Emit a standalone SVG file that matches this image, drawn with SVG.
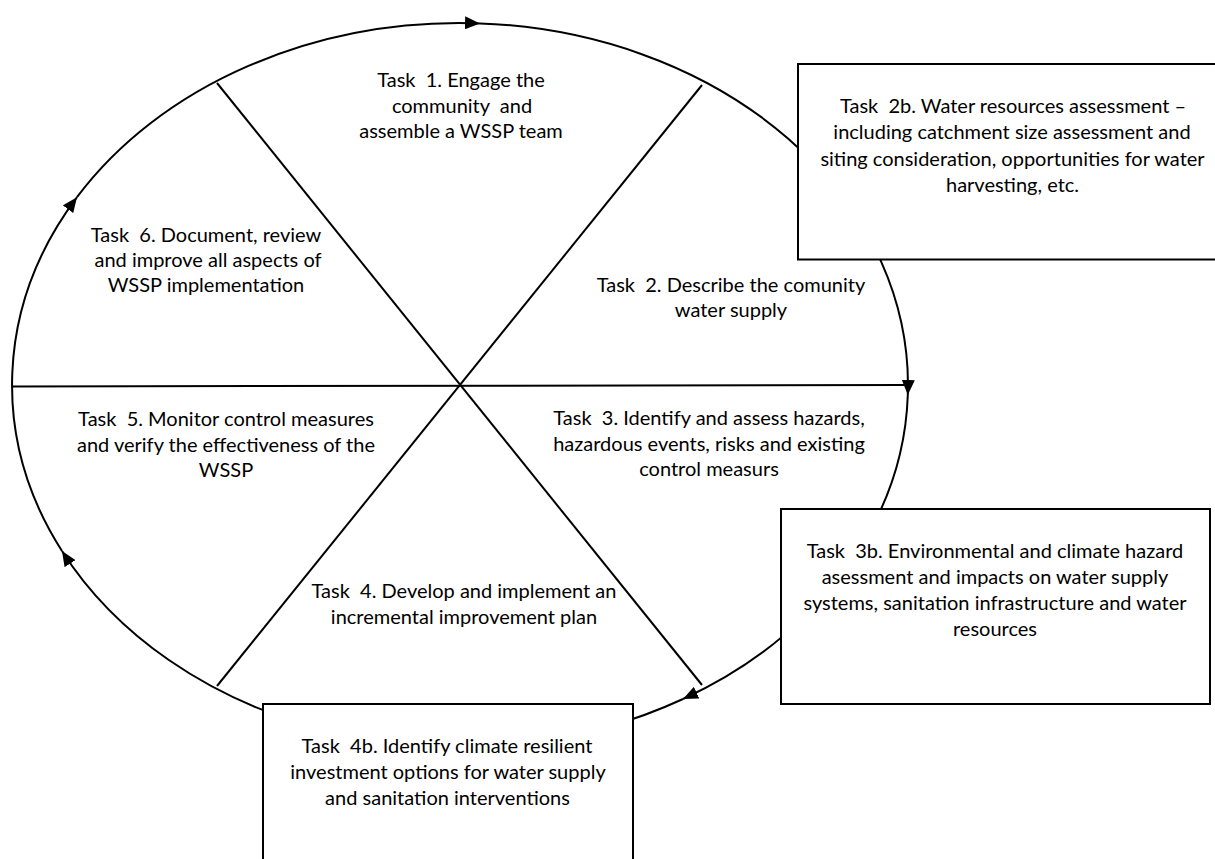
<svg xmlns="http://www.w3.org/2000/svg" width="1215" height="859" viewBox="0 0 1215 859">
<style>
  .bg { fill: #ffffff; }
  .ring { fill: none; stroke: #000; stroke-width: 2; }
  .spoke { fill: none; stroke: #000; stroke-width: 2; }
  .box { fill: #ffffff; stroke: #000; stroke-width: 2; }
  .t { font-family: Lato, "Liberation Sans", sans-serif; font-size: 20px; fill: #000; text-anchor: middle; white-space: pre; }
</style>
<defs>
  <marker id="ah" markerWidth="15" markerHeight="13" refX="15" refY="6.5" orient="auto" markerUnits="userSpaceOnUse">
    <path d="M0,0 L15,6.5 L0,13 z" fill="#000"/>
  </marker>
</defs>
<rect class="bg" x="0" y="0" width="1215" height="859"/>

<g id="connectors">
  <path class="ring" d="M77,197.2 A448,362 0 0 1 480,23.4" marker-end="url(#ah)"/>
  <path class="ring" d="M480,23.4 A448,362 0 0 1 907.8,395" marker-end="url(#ah)"/>
  <path class="ring" d="M907.8,395 A448,362 0 0 1 683,699" marker-end="url(#ah)"/>
  <path class="ring" d="M683,699 A448,362 0 0 1 62,551" marker-end="url(#ah)"/>
  <path class="ring" d="M62,551 A448,362 0 0 1 77,197.2" marker-end="url(#ah)"/>
  <line class="spoke" x1="12" y1="386.5" x2="905" y2="385"/>
  <line class="spoke" x1="217" y1="83" x2="702" y2="685"/>
  <line class="spoke" x1="702" y1="85" x2="217" y2="686"/>
</g>

<g id="task1">
  <text class="t" x="461" y="87">Task  1. Engage the</text>
  <text class="t" x="462" y="113">community  and</text>
  <text class="t" x="461" y="138">assemble a WSSP team</text>
</g>

<g id="task2">
  <text class="t" x="731" y="292">Task  2. Describe the comunity</text>
  <text class="t" x="731" y="317">water supply</text>
</g>

<g id="task3">
  <text class="t" x="709" y="425">Task  3. Identify and assess hazards,</text>
  <text class="t" x="709" y="451">hazardous events, risks and existing</text>
  <text class="t" x="709" y="476">control measurs</text>
</g>

<g id="task4">
  <text class="t" x="464" y="598">Task  4. Develop and implement an</text>
  <text class="t" x="464" y="624">incremental improvement plan</text>
</g>

<g id="task5">
  <text class="t" x="226" y="426">Task  5. Monitor control measures</text>
  <text class="t" x="226" y="452">and verify the effectiveness of the</text>
  <text class="t" x="226" y="477">WSSP</text>
</g>

<g id="task6">
  <text class="t" x="206" y="242">Task  6. Document, review</text>
  <text class="t" x="208" y="267">and improve all aspects of</text>
  <text class="t" x="206" y="292">WSSP implementation</text>
</g>

<g id="task2b">
  <rect class="box" x="798" y="64" width="432" height="195.5"/>
  <text class="t" x="1013" y="113">Task  2b. Water resources assessment –</text>
  <text class="t" x="1012" y="139">including catchment size assessment and</text>
  <text class="t" x="1012.5" y="166">siting consideration, opportunities for water</text>
  <text class="t" x="1012.5" y="192">harvesting, etc.</text>
</g>

<g id="task3b">
  <rect class="box" x="781" y="509" width="429" height="195"/>
  <text class="t" x="995" y="558">Task  3b. Environmental and climate hazard</text>
  <text class="t" x="995" y="584">asessment and impacts on water supply</text>
  <text class="t" x="995" y="610">systems, sanitation infrastructure and water</text>
  <text class="t" x="995" y="636">resources</text>
</g>

<g id="task4b">
  <rect class="box" x="263" y="704" width="370" height="170"/>
  <text class="t" x="447" y="753">Task  4b. Identify climate resilient</text>
  <text class="t" x="448" y="779">investment options for water supply</text>
  <text class="t" x="447.5" y="805">and sanitation interventions</text>
</g>
</svg>
